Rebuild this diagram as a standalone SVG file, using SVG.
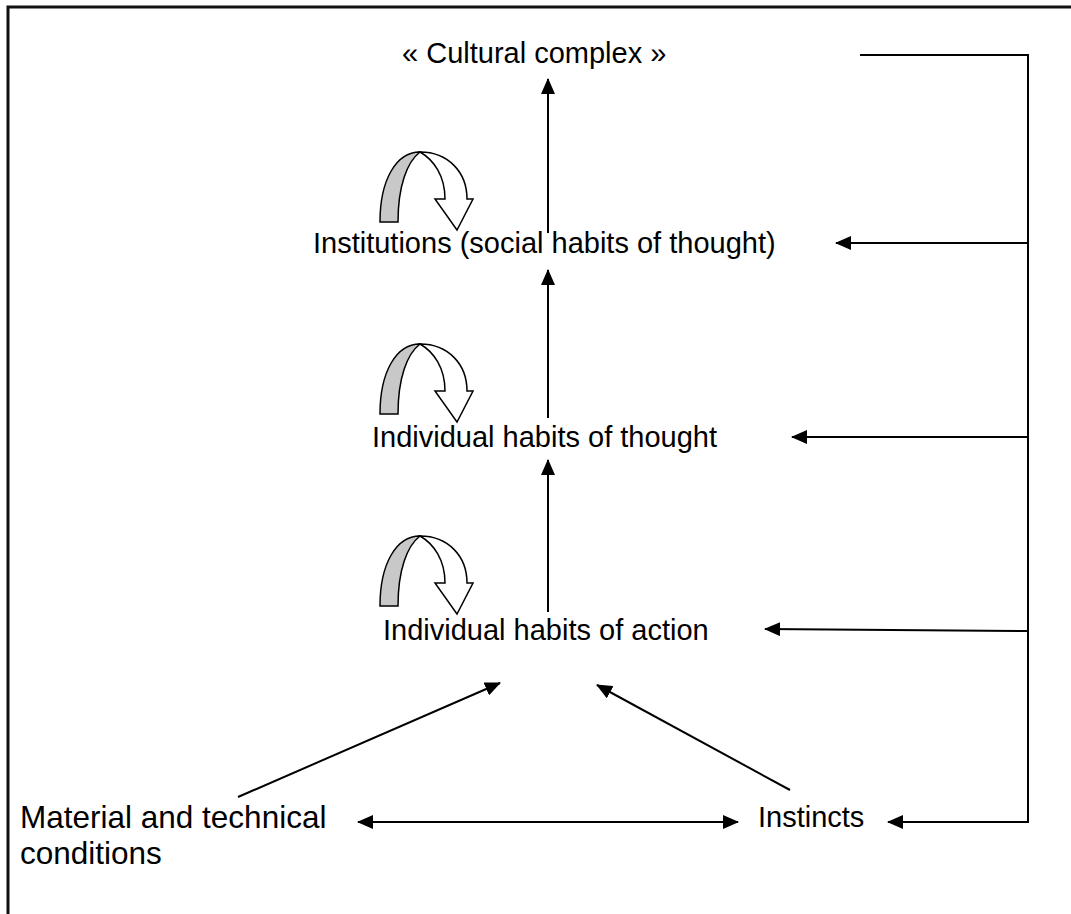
<svg xmlns="http://www.w3.org/2000/svg" width="1071" height="914" viewBox="0 0 1071 914">
<defs>
<style>
.t{font-family:"Liberation Sans",Arial,sans-serif;font-size:29px;fill:#000}
.m{font-size:31.5px}
.c{stroke:#000;stroke-width:2;fill:none}
.b{stroke:#111;stroke-width:3;fill:none}
.g{fill:#c8c8c8;stroke:#000;stroke-width:1.5}
.w{fill:#fff;stroke:#000;stroke-width:1.5}
</style>
<marker id="ah" markerUnits="userSpaceOnUse" markerWidth="16" markerHeight="14" refX="15" refY="7" orient="auto-start-reverse">
<path d="M0,0 L16,7 L0,14 Z" fill="#000"/>
</marker>
<g id="curl">
<path class="g" d="M380,222 L398,222 C398,186 407,162 420,152 C396,152 380,180 380,222 Z"/>
<path class="w" d="M420,152 C448,152 467,172 467,199 L473,199 L457,230 L435,199 L445,199 C445,176 434,160 420,152 Z"/>
</g>
</defs>
<rect width="1071" height="914" fill="#fff"/>
<g id="frame">
<path class="b" d="M8,914 L8,7 L1071,7"/>
</g>
<g id="connectors">
<path class="c" d="M860,55 L1028,55 L1028,823"/>
<line class="c" x1="1028" y1="243" x2="836" y2="243" marker-end="url(#ah)"/>
<line class="c" x1="1028" y1="437" x2="792" y2="437" marker-end="url(#ah)"/>
<line class="c" x1="1028" y1="631" x2="765" y2="629" marker-end="url(#ah)"/>
<line class="c" x1="1028" y1="822" x2="888" y2="822" marker-end="url(#ah)"/>
<line class="c" x1="548" y1="233" x2="548" y2="79" marker-end="url(#ah)"/>
<line class="c" x1="548" y1="418" x2="548" y2="270" marker-end="url(#ah)"/>
<line class="c" x1="548" y1="612" x2="548" y2="460" marker-end="url(#ah)"/>
<line class="c" x1="238" y1="797" x2="500" y2="683" marker-end="url(#ah)"/>
<line class="c" x1="790" y1="790" x2="597" y2="685" marker-end="url(#ah)"/>
<line class="c" x1="358" y1="822" x2="738" y2="822" marker-start="url(#ah)" marker-end="url(#ah)"/>
</g>
<g id="loop1"><use href="#curl"/></g>
<g id="loop2"><use href="#curl" transform="translate(0,192)"/></g>
<g id="loop3"><use href="#curl" transform="translate(0,384)"/></g>
<g id="n-cultural"><text class="t" x="402" y="63">« Cultural complex »</text></g>
<g id="n-institutions"><text class="t" x="313" y="253">Institutions (social habits of thought)</text></g>
<g id="n-thought"><text class="t" x="372" y="447">Individual habits of thought</text></g>
<g id="n-action"><text class="t" x="383" y="640">Individual habits of action</text></g>
<g id="n-material"><text class="t m" x="20" y="828">Material and technical</text><text class="t m" x="20" y="864">conditions</text></g>
<g id="n-instincts"><text class="t" x="758" y="827">Instincts</text></g>
</svg>
